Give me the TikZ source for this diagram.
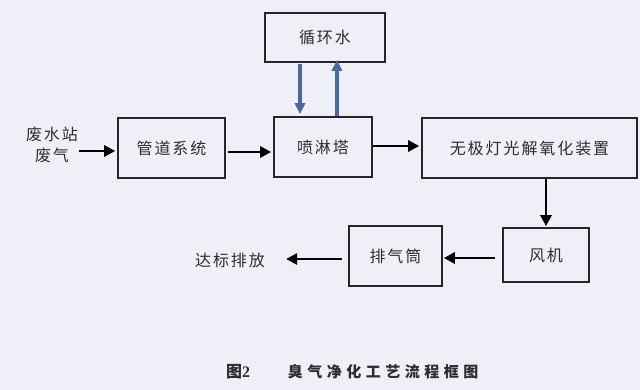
\documentclass[tikz,border=0pt]{standalone}
\usepackage{fontspec}
\setmainfont{Noto Sans CJK SC}[LetterSpace=12]
\newfontfamily\capfont{Noto Sans CJK SC}[LetterSpace=30]
\newfontfamily\capnum{Liberation Serif}
\usetikzlibrary{arrows.meta,calc}
\definecolor{bgc}{HTML}{EFEFF7}
\definecolor{txt}{HTML}{2E2E2E}
\definecolor{blu}{HTML}{4A68A8}
\begin{document}
\begin{tikzpicture}[x=1pt,y=-1pt,
  box/.style={draw=black!85,line width=1.6pt,fill=bgc,inner sep=0pt,text=txt,font=\fontsize{16}{18}\selectfont},
  lbl/.style={text=txt,font=\fontsize{16}{21}\selectfont,align=center,inner sep=0pt},
  arr/.style={line width=2.8pt,-{Triangle[length=11pt,width=11pt]}},
  barr/.style={draw=blu,line width=3.2pt,-{Triangle[length=11pt,width=10pt]}}]
\fill[bgc] (0,0) rectangle (640,390);
\useasboundingbox (0,0) rectangle (640,390);
\node[box,minimum width=120pt,minimum height=49pt] (xhs) at (325,37.5) {循环水};
\node[box,minimum width=107pt,minimum height=60pt] (gd) at (171.5,148) {管道系统};
\node[box,minimum width=98pt,minimum height=60pt] (pl) at (323,147) {喷淋塔};
\node[box,minimum width=215pt,minimum height=60pt] (wj) at (529.5,148) {无极灯光解氧化装置};
\node[box,minimum width=86pt,minimum height=54pt] (fj) at (546,255) {风机};
\node[box,minimum width=93pt,minimum height=60pt] (pq) at (395.5,256) {排气筒};
\node[lbl] (src) at (52,145) {废水站\\废气};
\node[lbl] (out) at (230,260) {达标排放};
\node[inner sep=0pt,text=txt] (cap1) at (238,372) {\fontsize{16}{18}\selectfont\bfseries\capfont 图\capnum 2};
\node[inner sep=0pt,text=txt] (cap2) at (383,372) {\fontsize{15}{17}\selectfont\bfseries\capfont 臭气净化工艺流程框图};
\draw[arr] ($(src.east)+(1,6)$) -- ($(gd.west)+(-2,3)$);
\draw[arr] ($(gd.east)+(2,4)$) -- ($(pl.west)+(-2,5)$);
\draw[arr] ($(pl.east)+(0,-1)$) -- ($(wj.west)+(-2,-2)$);
\draw[arr] (wj.south -| fj) -- ($(fj.north)+(0,-1)$);
\draw[arr] ($(fj.west)+(-7,3)$) -- ($(pq.east)+(1,2)$);
\draw[arr] ($(pq.west)+(-6,3)$) -- ($(out.east)+(21,-1)$);
\draw[barr] ($(xhs.south)+(-25,1)$) -- ($(pl.north)+(-23,-2)$);
\draw[barr] ($(pl.north)+(14,0)$) -- ($(xhs.south)+(12,-3)$);
\end{tikzpicture}
\end{document}
